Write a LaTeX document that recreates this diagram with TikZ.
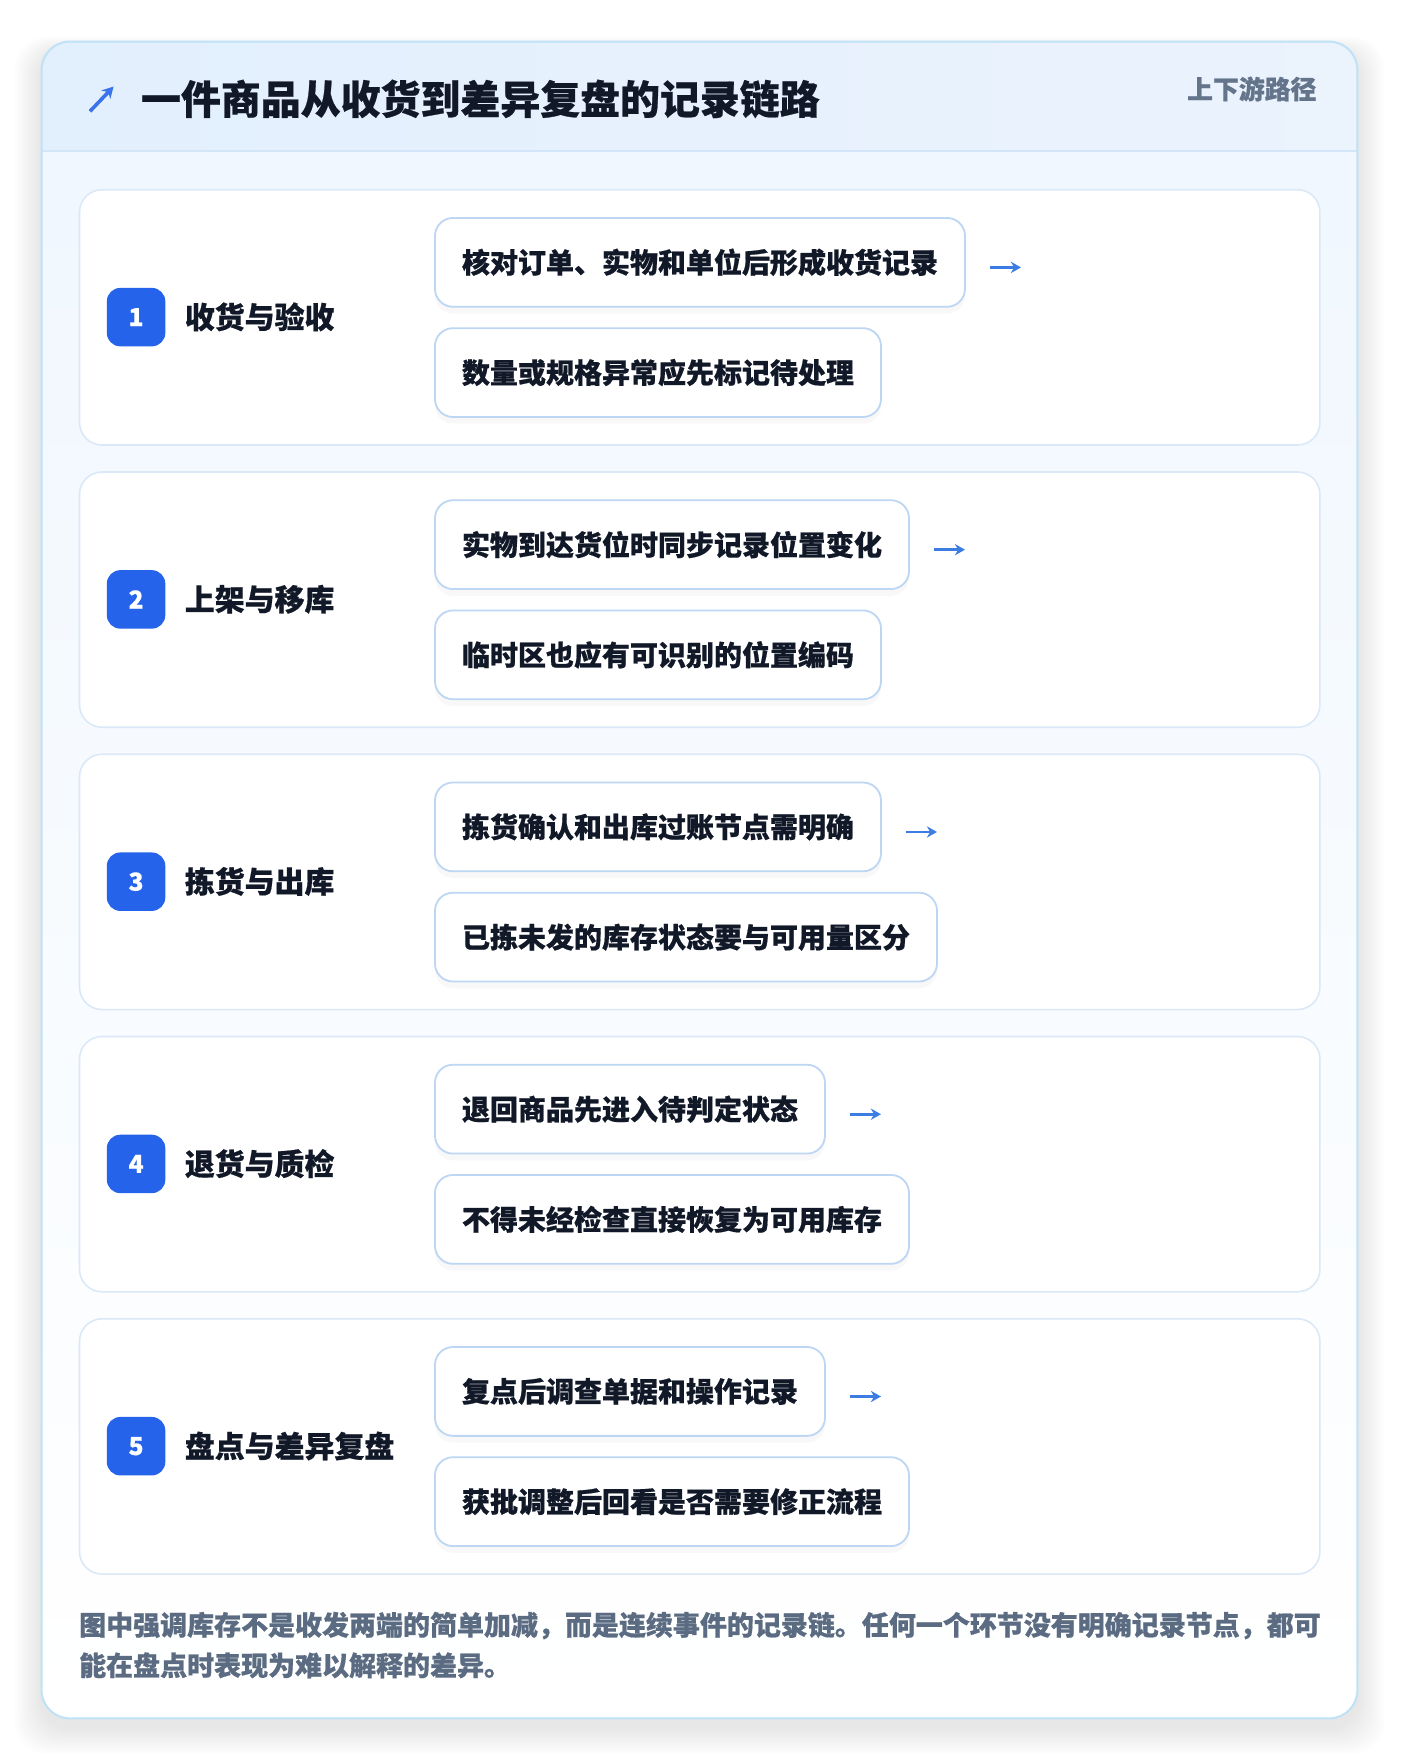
\documentclass[tikz,border=0pt]{standalone}
\usepackage{fontspec}
\setmainfont{Noto Sans CJK SC}[BoldFeatures={FakeBold=0.6}]
\usetikzlibrary{arrows.meta,shadows}
\definecolor{cardborder}{HTML}{BFE2F6}
\definecolor{headA}{HTML}{E2EFFD}
\definecolor{headB}{HTML}{EBF3FD}
\definecolor{headline}{HTML}{D3E5F8}
\definecolor{bodytop}{HTML}{F0F7FE}
\definecolor{stageborder}{HTML}{DAE8F8}
\definecolor{subborder}{HTML}{BDD6F4}
\definecolor{badge}{HTML}{2563EB}
\definecolor{ink}{HTML}{111827}
\definecolor{muted}{HTML}{64748B}
\definecolor{foot}{HTML}{5B6B82}
\definecolor{arrowblue}{HTML}{3C7DE3}
\tikzset{
  stagecard/.style={draw=stageborder, line width=0.7pt, fill=white, rounded corners=10pt,
    anchor=north west, minimum width=551.5pt, minimum height=113.5pt, inner sep=0pt},
  badgebox/.style={fill=badge, rounded corners=6pt, minimum size=26pt, inner sep=0pt,
    text=white, font=\bfseries\fontsize{11pt}{12pt}\selectfont},
  stagetitle/.style={anchor=base west, inner sep=0pt, text=ink,
    font=\bfseries\fontsize{13.3pt}{15pt}\selectfont},
  subbox/.style={draw=subborder, line width=0.8pt, fill=white, rounded corners=8pt,
    anchor=north west, minimum height=39.5pt, inner xsep=12pt, inner ysep=0pt, text=ink,
    font=\bfseries\fontsize{12.45pt}{14pt}\selectfont,
    drop shadow={opacity=0.05, shadow xshift=0pt, shadow yshift=-3pt}},
  flowarrow/.style={draw=arrowblue, line width=1.3pt, -{Stealth[length=4.5pt,width=5pt]}},
  footline/.style={anchor=base west, inner sep=0pt, text=foot,
    font=\bfseries\fontsize{12pt}{14pt}\selectfont},
}
\begin{document}
\begin{tikzpicture}[x=0.5pt,y=-0.5pt]
\useasboundingbox (0,0) rectangle (1245,1568.6);
\fill[white] (0,0) rectangle (1245,1568.6);
% soft shadow of the main card
\foreach \k in {1,...,12}{
  \fill[black, opacity=0.008, rounded corners=14pt]
    (37-2*\k,37-1*\k+8) rectangle (1207+2*\k,1528+2*\k+8);
}
% main card
\fill[white, rounded corners=12.5pt] (37,37) rectangle (1207,1528);
\begin{scope}
  \clip[rounded corners=12.5pt] (37,37) rectangle (1207,1528);
  \shade[top color=bodytop, bottom color=white] (37,134) rectangle (1207,1528);
  \shade[left color=headA, right color=headB] (37,37) rectangle (1207,134);
  \draw[headline, line width=0.8pt] (37,134) -- (1207,134);
\end{scope}
\draw[cardborder, line width=0.9pt, rounded corners=12.5pt] (37,37) rectangle (1207,1528);
% header
\coordinate (icA) at (80,99);
\coordinate (icB) at (101,77);
\draw[draw=badge!90!white, line width=1.6pt, -{Stealth[length=5pt,width=5.5pt]}] (icA) -- (icB);
\node[anchor=base west, inner sep=0pt, text=ink, font=\bfseries\fontsize{17.75pt}{20pt}\selectfont]
  (title) at (125,101.5) {一件商品从收货到差异复盘的记录链路};
\node[anchor=base east, inner sep=0pt, text=muted, font=\bfseries\fontsize{11.5pt}{13pt}\selectfont]
  (corner) at (1171,88) {上下游路径};
% stages
\foreach \i/\t/\a/\b in {
  1/收货与验收/核对订单、实物和单位后形成收货记录/数量或规格异常应先标记待处理,
  2/上架与移库/实物到达货位时同步记录位置变化/临时区也应有可识别的位置编码,
  3/拣货与出库/拣货确认和出库过账节点需明确/已拣未发的库存状态要与可用量区分,
  4/退货与质检/退回商品先进入待判定状态/不得未经检查直接恢复为可用库存,
  5/盘点与差异复盘/复点后调查单据和操作记录/获批调整后回看是否需要修正流程}{
  \pgfmathsetmacro\yo{251*(\i-1)}
  \node[stagecard] (card\i) at (70,168+\yo) {};
  \node[badgebox] (badge\i) at (121,282+\yo) {\i};
  \node[stagetitle] (stitle\i) at (164,292+\yo) {\t};
  \node[subbox] (sa\i) at (386,193+\yo) {\a};
  \node[subbox] (sb\i) at (386,291+\yo) {\b};
  \coordinate (as\i) at ([xshift=10.5pt,yshift=-2.25pt]sa\i.east);
  \coordinate (ae\i) at ([xshift=24.5pt,yshift=-2.25pt]sa\i.east);
  \draw[flowarrow] (as\i) -- (ae\i);
}
% footer
\node[footline] (foot1) at (70,1454) {图中强调库存不是收发两端的简单加减，而是连续事件的记录链。任何一个环节没有明确记录节点，都可};
\node[footline] (foot2) at (70,1490) {能在盘点时表现为难以解释的差异。};
\end{tikzpicture}
\end{document}
